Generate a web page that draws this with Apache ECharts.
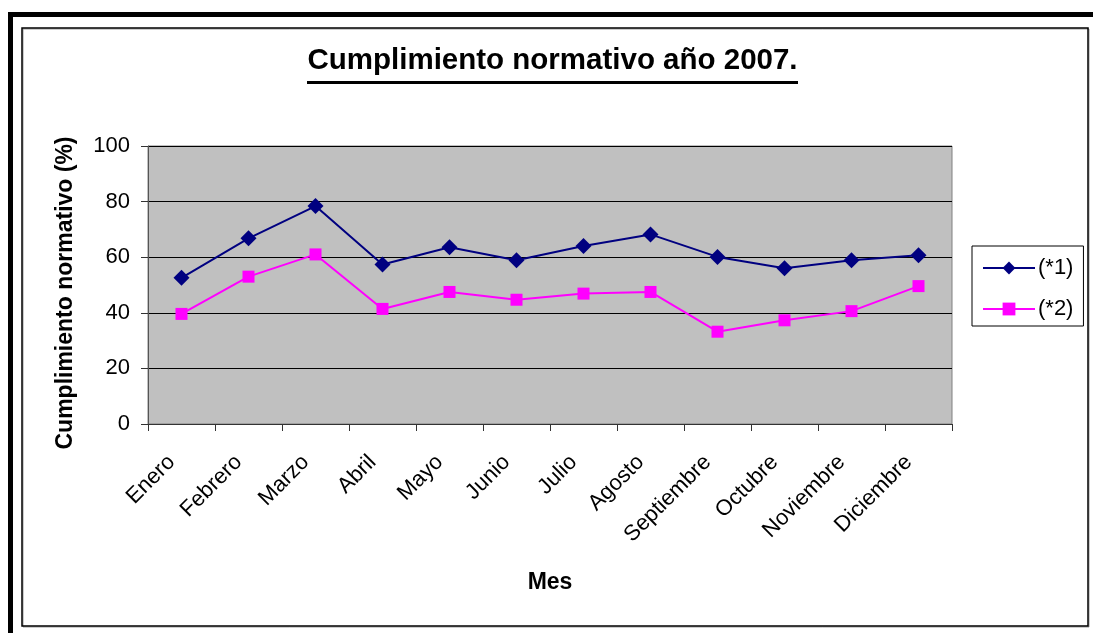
<!DOCTYPE html>
<html><head><meta charset="utf-8">
<script src="https://cdn.jsdelivr.net/npm/echarts@6/dist/echarts.min.js"></script>
<style>html,body{margin:0;padding:0;background:#fff}#c{width:1093px;height:633px}</style>
</head><body><div id="c"></div>
<script>
const months = ["Enero","Febrero","Marzo","Abril","Mayo","Junio","Julio","Agosto","Septiembre","Octubre","Noviembre","Diciembre"];
const serie1 = [52.6, 66.8, 78.4, 57.4, 63.6, 58.9, 64.0, 68.2, 60.1, 56.0, 58.9, 60.7];
const serie2 = [39.6, 53.0, 61.0, 41.4, 47.5, 44.7, 46.9, 47.5, 33.2, 37.3, 40.6, 49.6];
const names = ["(*1)", "(*2)"];
const titleText = "Cumplimiento normativo año 2007.";
const yName = "Cumplimiento normativo (%)";
const xName = "Mes";

const chart = echarts.init(document.getElementById('c'), null, {renderer:'canvas'});
const F = 'Liberation Sans, Arial, sans-serif';
chart.setOption({
  animation: false,
  backgroundColor: '#fff',
  graphic: [
    {type:'rect', shape:{x:8,y:12,width:1085,height:5}, style:{fill:'#000'}},
    {type:'rect', shape:{x:8,y:12,width:5,height:621}, style:{fill:'#000'}},
    {type:'rect', shape:{x:23,y:29,width:1066,height:598}, style:{fill:'none',stroke:'#999',lineWidth:1}},
    {type:'rect', shape:{x:22,y:28,width:1066,height:598}, style:{fill:'none',stroke:'#000',lineWidth:1.5}},
    {type:'text', x:552.5, y:46, style:{text:titleText, font:'bold 29.5px '+F, fill:'#000', textAlign:'center', textVerticalAlign:'top'}},
    {type:'rect', shape:{x:307,y:81,width:491,height:3}, style:{fill:'#000'}}
  ],
  grid: {left:148, top:146, right:141, bottom:209, show:true, backgroundColor:'#c0c0c0', borderColor:'#808080', borderWidth:1},
  legend: {
    orient:'vertical', left:972, top:246,
    padding:[11,10,6,10], itemGap:19,
    borderColor:'#000', borderWidth:1, backgroundColor:'#fff',
    itemWidth:52, itemHeight:16,
    textStyle:{fontFamily:F, fontSize:22, color:'#000', padding:[0,0,0,-2]},
    data: names
  },
  xAxis: {
    type:'category', data: months, boundaryGap:true,
    name:xName, nameLocation:'middle', nameGap:147,
    nameTextStyle:{fontFamily:F, fontSize:23, fontWeight:'bold', color:'#000'},
    axisLine:{lineStyle:{color:'#333', width:1}},
    axisTick:{show:true, length:7, lineStyle:{color:'#333'}},
    axisLabel:{rotate:45, margin:25, padding:[0,14,0,0], fontFamily:F, fontSize:22, color:'#000', interval:0},
    splitLine:{show:false}
  },
  yAxis: {
    type:'value', min:0, max:100, interval:20,
    name:yName, nameLocation:'middle', nameGap:71, nameRotate:90,
    nameTextStyle:{fontFamily:F, fontSize:23, fontWeight:'bold', color:'#000', padding:[0,16,0,0]},
    axisLine:{show:true, lineStyle:{color:'#555', width:1}},
    axisTick:{show:true, length:7, lineStyle:{color:'#333'}},
    axisLabel:{margin:18, fontFamily:F, fontSize:22, color:'#000'},
    splitLine:{show:true, lineStyle:{color:'#000', width:1}}
  },
  series: [
    {name:names[0], type:'line', data:serie1, symbol:'diamond', symbolSize:16,
     itemStyle:{color:'#000080'}, lineStyle:{color:'#000080', width:2}},
    {name:names[1], type:'line', data:serie2, symbol:'rect', symbolSize:12,
     itemStyle:{color:'#ff00ff'}, lineStyle:{color:'#ff00ff', width:2}}
  ]
});
</script></body></html>
